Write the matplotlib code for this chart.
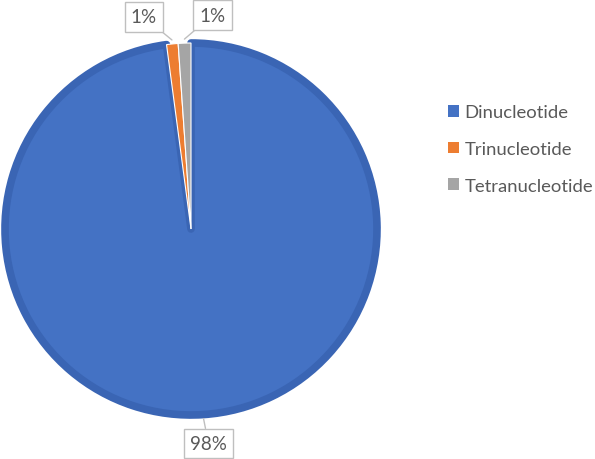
import matplotlib.pyplot as plt
from matplotlib.patches import Patch
import numpy as np

# data
categories = ['Dinucleotide', 'Trinucleotide', 'Tetranucleotide']
shares = [97.9, 1.0, 1.1]
labels = ['98%', '1%', '1%']
colors = ['#4472C4', '#ED7D31', '#A5A5A5']

plt.rcParams['font.family'] = ['Lato', 'DejaVu Sans']

W, H = 595, 460
fig = plt.figure(figsize=(W / 100, H / 100), dpi=100)

# pie axes: centre (191, 230) px from top-left, radius ~190 px
cx, cy, r = 191, 230, 190
ax = fig.add_axes([(cx - r) / W, (H - cy - r) / H, 2 * r / W, 2 * r / H])

wedges, _ = ax.pie(shares, colors=colors, startangle=90, counterclock=False,
                   radius=186 / 190)
wedges[0].set_edgecolor('#3A65B4')
wedges[0].set_linewidth(5.5)
wedges[0].set_joinstyle('round')
wedges[0].set_zorder(1)
for w in wedges[1:]:
    w.set_edgecolor('white')
    w.set_linewidth(0.8)
    w.set_zorder(2)
ax.set_xlim(-1, 1)
ax.set_ylim(-1, 1)
ax.set_aspect('equal')
ax.axis('off')

# callout labels
offsets = [(5, -25), (-28, 23), (28, 24)]
for w, lab, off in zip(wedges, labels, offsets):
    mid = np.deg2rad((w.theta1 + w.theta2) / 2)
    pt = (np.cos(mid), np.sin(mid))
    ax.annotate(lab, xy=pt, xytext=off, textcoords='offset pixels',
                ha='center', va='center', fontsize=13.5, color='#595959',
                bbox=dict(boxstyle='square,pad=0.33', fc='white', ec='#BFBFBF', lw=1),
                arrowprops=dict(arrowstyle='-', color='#BFBFBF', lw=1,
                                shrinkA=0, shrinkB=0),
                annotation_clip=False, zorder=5)

handles = [Patch(facecolor=c, edgecolor='none') for c in colors]
fig.legend(handles, categories, loc='center left',
           bbox_to_anchor=(448 / W, (H - 150) / H), frameon=False,
           fontsize=13.3, labelcolor='#595959', handlelength=0.6,
           handleheight=0.6, handletextpad=0.3, labelspacing=1.12,
           borderpad=0, borderaxespad=0)

fig.savefig('out.png', dpi=100)
